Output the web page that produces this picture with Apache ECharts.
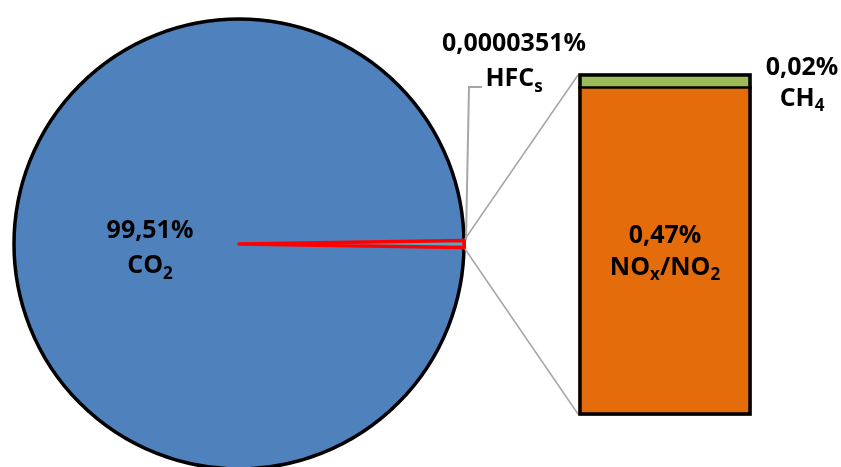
<!DOCTYPE html>
<html><head><meta charset="utf-8">
<script src="https://cdn.jsdelivr.net/npm/echarts@6/dist/echarts.min.js"></script>
<style>html,body{margin:0;padding:0;background:#fff}#c{width:841px;height:467px}</style>
</head><body><div id="c"></div>
<script>
// ---- data ----
const co2Value = 99.51;
const co2Label = '99,51%';
const co2Name = '{v|CO}{s|2}';
const gasKeys = ['NOx/NO2', 'CH4', 'HFCs'];
const gasValues = [0.47, 0.02, 0.0000351];
const gasLabels = ['0,47%', '0,02%', '0,0000351%'];
const gasNames = ['{v|NO}{s|x}{v|/NO}{s|2}', '{v|CH}{s|4}', '{v|HFC}{s|s}'];
const gasColors = ['#E46C0A', '#9BBB59', '#9BBB59'];

// ---- layout ----
const FONT = '"Open Sans", sans-serif';
const CX = 239, CY = 244, R = 225;
const BW = 3.5; // border width
const GL = 580 - BW / 2, GT = 75 - BW / 2, GW = 170 + BW, GH = 339 + BW;

function rich(lh, align) {
  const v = { fontFamily: FONT, fontWeight: 'bold', fontSize: 25, lineHeight: lh, color: '#000' };
  const s = { fontFamily: FONT, fontWeight: 'bold', fontSize: 17, verticalAlign: 'bottom', color: '#000' };
  if (align) { v.align = align; s.align = align; }
  return { v, s };
}

const otherTotal = gasValues.reduce((a, b) => a + b, 0);
const smallAngle = otherTotal / (otherTotal + co2Value) * 360;
const startAngle = smallAngle / 2;
const rad = Math.PI / 180;
const pTop = [CX + R * Math.cos(startAngle * rad), CY - R * Math.sin(startAngle * rad)];
const pBot = [CX + R * Math.cos(-startAngle * rad), CY - R * Math.sin(-startAngle * rad)];

const chart = echarts.init(document.getElementById('c'), null, { renderer: 'canvas' });

const barSeries = gasKeys.map((k, i) => ({
  name: k,
  type: 'bar',
  stack: 'g',
  barWidth: '100%',
  data: [gasValues[i]],
  silent: true,
  z: 2,
  itemStyle: { color: gasColors[i], borderWidth: 0 },
  markLine: i === 0 ? {
    silent: true, symbol: 'none', label: { show: false },
    lineStyle: { color: '#000', width: 2.5, type: 'solid' },
    data: [{ yAxis: gasValues[0] }]
  } : undefined,
  label: i === 0 ? {
    show: true, position: 'inside',
    formatter: () => `{v|${gasLabels[0]}}\n${gasNames[0]}`,
    rich: rich(32)
  } : i === 1 ? {
    show: true, position: 'right', distance: 14, offset: [0, 3],
    formatter: () => `{v|${gasLabels[1]}}\n${gasNames[1]}`,
    rich: rich(31, 'center')
  } : { show: false }
}));

// outline bar covering the whole stacked column
barSeries.push({
  name: 'outline', type: 'bar', barWidth: '100%', barGap: '-100%', z: 3, silent: true,
  data: [otherTotal],
  itemStyle: { color: 'rgba(0,0,0,0)', borderColor: '#000', borderWidth: BW },
  label: { show: false }
});

chart.setOption({
  animation: false,
  backgroundColor: '#fff',
  grid: { left: GL, top: GT, width: GW, height: GH, containLabel: false },
  xAxis: { type: 'category', data: ['other'], show: false },
  yAxis: { type: 'value', min: 0, max: otherTotal, show: false },
  series: [
    {
      type: 'pie', center: [CX, CY], radius: R, silent: true, z: 1,
      label: { show: false }, labelLine: { show: false },
      data: [{ value: 1, itemStyle: { color: '#4F81BD', borderColor: '#000', borderWidth: 3.5 } }]
    },
    {
      type: 'pie', center: [CX, CY], radius: R, silent: true, z: 3,
      startAngle: startAngle, clockwise: true,
      label: { show: false }, labelLine: { show: false },
      emphasis: { disabled: true },
      data: [
        { name: 'Other', value: otherTotal, itemStyle: { color: '#4BACC6', borderColor: '#FF0000', borderWidth: 3.5, borderJoin: 'round' } },
        { name: 'CO2', value: co2Value, itemStyle: { color: 'rgba(0,0,0,0)', borderWidth: 0 } }
      ]
    },
    ...barSeries
  ],
  graphic: [
    { type: 'line', z: 2, silent: true, shape: { x1: pTop[0], y1: pTop[1], x2: 578, y2: 75 }, style: { stroke: '#A6A6A6', lineWidth: 1.5 } },
    { type: 'line', z: 2, silent: true, shape: { x1: pBot[0], y1: pBot[1], x2: 578, y2: 414 }, style: { stroke: '#A6A6A6', lineWidth: 1.5 } },
    { type: 'polyline', z: 2, silent: true, shape: { points: [[pTop[0] + 2, pTop[1]], [469, 87], [482, 87]] }, style: { stroke: '#A6A6A6', lineWidth: 2, fill: null } },
    { type: 'text', z: 10, silent: true, x: 150, y: 248,
      style: { text: `{v|${co2Label}}\n${co2Name}`, rich: rich(35), align: 'center', verticalAlign: 'middle' } },
    { type: 'text', z: 10, silent: true, x: 514, y: 61,
      style: { text: `{v|${gasLabels[2]}}\n${gasNames[2]}`, rich: rich(35), align: 'center', verticalAlign: 'middle' } }
  ]
});
</script>
</body></html>
